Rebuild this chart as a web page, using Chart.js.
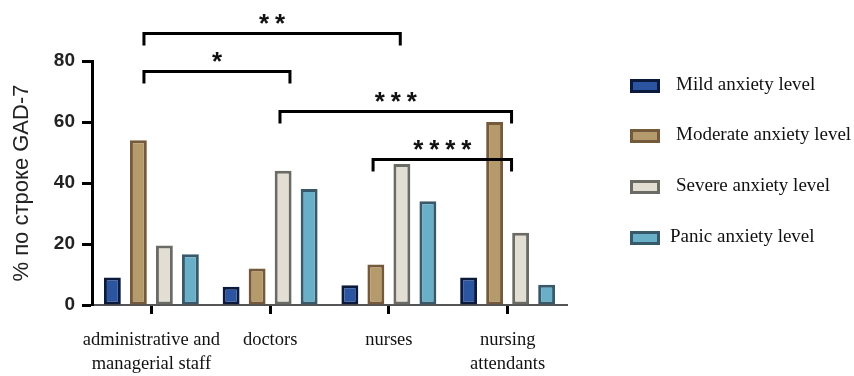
<!DOCTYPE html>
<html>
<head>
<meta charset="utf-8">
<script src="https://cdn.jsdelivr.net/npm/chart.js@4.4.1/dist/chart.umd.min.js"></script>
<style>
  html, body { margin: 0; padding: 0; background: #fff; }
  canvas { display: block; }
</style>
</head>
<body>
<canvas id="c" width="854" height="376"></canvas>
<script>
// Staff groups and GAD-7 anxiety levels (% per row)
const categories = [['administrative and', 'managerial staff'], 'doctors', 'nurses', ['nursing', 'attendants']];
const seriesNames = ['Mild anxiety level', 'Moderate anxiety level', 'Severe anxiety level', 'Panic anxiety level'];
const mild     = [9, 6, 6.5, 9];
const moderate = [54, 12, 13.3, 60];
const severe   = [19.5, 44, 46.2, 23.7];
const panic    = [16.6, 38, 34, 6.6];
const yTicks   = [0, 20, 40, 60, 80];
const yTitle   = '% по строке GAD-7';

// Significance comparisons: category from / to, bracket level (%), stars
const bracketFrom  = [0, 0, 1, 2];
const bracketTo    = [2, 1, 3, 3];
const bracketLevel = [89.2, 76.7, 63.6, 47.9];
const bracketStars = ['**', '*', '***', '****'];

// Styling
const fills   = ['#2b55a0', '#b59b6b', '#e3ded3', '#6aafc8'];
const borders = ['#0b1a3c', '#74593a', '#6b6b66', '#37596a'];
// bracket end offsets, as a fraction of one category width
const bracketEndShift = [[-0.0625, 0.096], [-0.0625, 0.167], [0.083, 0.033], [-0.133, 0.033]];

const seriesValues = [mild, moderate, severe, panic];

const bracketPlugin = {
  id: 'sigBrackets',
  afterDraw(chart) {
    const { ctx } = chart;
    const x = chart.scales.x, y = chart.scales.y;
    const cw = x.width / categories.length;
    ctx.save();
    ctx.strokeStyle = '#000';
    ctx.lineWidth = 3;
    ctx.lineCap = 'butt';
    ctx.lineJoin = 'miter';
    ctx.fillStyle = '#111';
    ctx.font = 'bold 26px "Liberation Sans", Arial, sans-serif';
    ctx.textAlign = 'center';
    ctx.textBaseline = 'alphabetic';
    bracketFrom.forEach((from, i) => {
      const x1 = x.getPixelForValue(from) + bracketEndShift[i][0] * cw;
      const x2 = x.getPixelForValue(bracketTo[i]) + bracketEndShift[i][1] * cw;
      const yy = Math.round(y.getPixelForValue(bracketLevel[i])) + 0.5;
      const drop = 12;
      ctx.beginPath();
      ctx.moveTo(x1, yy + drop);
      ctx.lineTo(x1, yy);
      ctx.lineTo(x2, yy);
      ctx.lineTo(x2, yy + drop);
      ctx.stroke();
      const stars = bracketStars[i];
      const step = 16;
      const mid = (x1 + x2) / 2;
      for (let k = 0; k < stars.length; k++) {
        const sx = mid + (k - (stars.length - 1) / 2) * step;
        ctx.fillText(stars[k], sx, yy - 2);
      }
    });
    ctx.restore();
  }
};

const legendPlugin = {
  id: 'sideLegend',
  afterDraw(chart) {
    const { ctx } = chart;
    const rowsY = [86, 136, 187, 238];
    ctx.save();
    chart.data.datasets.forEach((ds, i) => {
      const cy = rowsY[i];
      ctx.fillStyle = ds.borderColor;
      ctx.fillRect(630, cy - 7, 30, 14);
      ctx.fillStyle = ds.backgroundColor;
      ctx.fillRect(633, cy - 4, 24, 8);
      ctx.fillStyle = '#111';
      ctx.font = '19px "Liberation Serif", "Times New Roman", serif';
      ctx.textAlign = 'left';
      ctx.textBaseline = 'middle';
      ctx.fillText(ds.label, i === 3 ? 670 : 676, cy - 1);
    });
    ctx.restore();
  }
};

new Chart(document.getElementById('c'), {
  type: 'bar',
  data: {
    labels: categories,
    datasets: seriesValues.map((vals, i) => ({
      label: seriesNames[i],
      data: vals,
      backgroundColor: fills[i],
      borderColor: borders[i],
      borderWidth: 3,
      borderSkipped: false,
      categoryPercentage: 0.876,
      barPercentage: 0.65
    }))
  },
  options: {
    responsive: false,
    devicePixelRatio: 1,
    animation: false,
    layout: { padding: { top: 61, right: 287, left: 0, bottom: 0 } },
    plugins: {
      legend: { display: false },
      tooltip: { enabled: false }
    },
    scales: {
      x: {
        afterFit(s) { s.height = 71; },
        border: { display: true, color: '#555', width: 2 },
        grid: {
          display: true, drawOnChartArea: false, offset: false,
          drawTicks: true, tickLength: 9, tickWidth: 3, tickColor: '#000'
        },
        ticks: {
          autoSkip: false, maxRotation: 0, minRotation: 0, padding: 14,
          color: '#111',
          font: { family: '"Liberation Serif", "Times New Roman", serif', size: 18.5, lineHeight: 1.3 }
        }
      },
      y: {
        min: yTicks[0],
        max: yTicks[yTicks.length - 1],
        afterFit(s) { s.width = 92; },
        afterBuildTicks(s) { s.ticks = yTicks.map(v => ({ value: v })); },
        border: { display: true, color: '#000', width: 3 },
        grid: {
          display: true, drawOnChartArea: false,
          drawTicks: true, tickLength: 10, tickWidth: 3, tickColor: '#000'
        },
        ticks: {
          padding: 7, color: '#222',
          font: { family: '"Liberation Sans", Arial, sans-serif', size: 19, weight: 'bold' }
        },
        title: {
          display: true, text: yTitle, color: '#222',
          padding: { top: 9, bottom: 0 },
          font: { family: '"Liberation Sans", Arial, sans-serif', size: 22, weight: 'normal', lineHeight: 1.2 }
        }
      }
    }
  },
  plugins: [bracketPlugin, legendPlugin]
});
</script>
</body>
</html>
